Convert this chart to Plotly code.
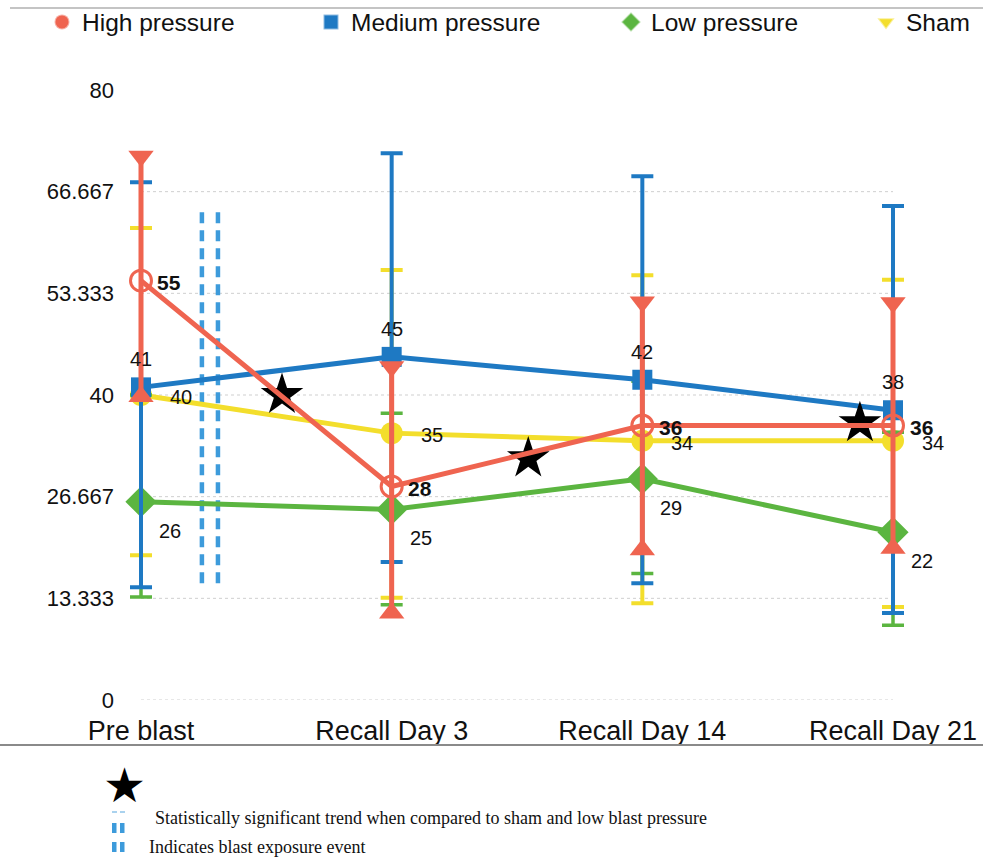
import plotly.graph_objects as go

# ---- data -------------------------------------------------------------
categories = ["Pre blast", "Recall Day 3", "Recall Day 14", "Recall Day 21"]

high_mean = [55, 28, 36, 36]
high_upper = [71.3, 43.7, 52.2, 52.1]
high_lower = [39.8, 11.4, 19.7, 19.9]

medium_mean = [41, 45, 42, 38]
medium_upper = [67.9, 71.7, 68.7, 64.8]
medium_lower = [14.8, 18.1, 15.3, 11.4]

low_mean = [26, 25, 29, 22]
low_upper = [40.0, 37.6, 41.8, 35.1]
low_lower = [13.5, 12.5, 16.6, 9.8]

sham_mean = [40, 35, 34, 34]
sham_upper = [61.9, 56.4, 55.7, 55.1]
sham_lower = [19.0, 13.4, 12.7, 12.2]

# significance stars placed between time points (x in category units)
star_x = [0.5625, 1.545, 2.868]
star_y = [40.0, 31.7, 36.3]

# blast exposure event (double dashed marker)
blast_x = [0.243, 0.307]
blast_span = [15.3, 64.7]

y_ticks = [0, 13.333, 26.667, 40, 53.333, 66.667, 80]
y_tick_text = ["0", "13.333", "26.667", "40", "53.333", "66.667", "80"]

# ---- styling ----------------------------------------------------------
RED = "#EF6450"
BLUE = "#1E79C3"
GREEN = "#5BB540"
YELLOW = "#F3DE2C"
BLAST = "#3D9BDB"
SANS = "Liberation Sans, Arial, Helvetica, sans-serif"
SERIF = "Liberation Serif, Times New Roman, serif"

W, H = 983, 857
ML, MR, MT, MB = 125, 23, 90, 157
PW, PH = W - ML - MR, H - MT - MB


def px(x):
    return (x - ML) / PW


def py(y):
    return (H - MB - y) / PH


xs = list(range(len(categories)))


def err(mean, upper, lower):
    return dict(
        type="data",
        symmetric=False,
        array=[u - m for u, m in zip(upper, mean)],
        arrayminus=[m - l for m, l in zip(mean, lower)],
    )


fig = go.Figure()

# blast exposure double dashed lines
for bx in blast_x:
    fig.add_trace(go.Scatter(
        x=[bx, bx], y=blast_span, mode="lines",
        line=dict(color=BLAST, width=4.5, dash="11px,7px"),
        showlegend=False, hoverinfo="skip",
    ))

# Sham
e = err(sham_mean, sham_upper, sham_lower)
e.update(color=YELLOW, thickness=4, width=11)
fig.add_trace(go.Scatter(
    x=xs, y=sham_mean, mode="lines+markers", name="Sham",
    line=dict(color=YELLOW, width=5),
    marker=dict(symbol="circle", size=22, color=YELLOW),
    error_y=e, showlegend=False, cliponaxis=False,
))

# Low pressure
e = err(low_mean, low_upper, low_lower)
e.update(color=GREEN, thickness=3.5, width=11)
fig.add_trace(go.Scatter(
    x=xs, y=low_mean, mode="lines+markers", name="Low pressure",
    line=dict(color=GREEN, width=5),
    marker=dict(symbol="diamond", size=24, color=GREEN),
    error_y=e, showlegend=False, cliponaxis=False,
))

# Medium pressure
e = err(medium_mean, medium_upper, medium_lower)
e.update(color=BLUE, thickness=4, width=11)
fig.add_trace(go.Scatter(
    x=xs, y=medium_mean, mode="lines+markers", name="Medium pressure",
    line=dict(color=BLUE, width=5),
    marker=dict(symbol="square", size=20, color=BLUE),
    error_y=e, showlegend=False, cliponaxis=False,
))

# significance stars
fig.add_trace(go.Scatter(
    x=star_x, y=star_y, mode="markers",
    marker=dict(symbol="star", size=32, color="black"),
    showlegend=False, hoverinfo="skip", cliponaxis=False,
))

# High pressure
e = err(high_mean, high_upper, high_lower)
e.update(color=RED, thickness=5, width=0)
fig.add_trace(go.Scatter(
    x=xs, y=high_mean, mode="lines+markers", name="High pressure",
    line=dict(color=RED, width=5),
    marker=dict(symbol="circle-open", size=21, color=RED, line=dict(width=3, color=RED)),
    error_y=e, showlegend=False, cliponaxis=False,
))
# arrow-head caps on the high pressure error bars
fig.add_trace(go.Scatter(
    x=xs + xs, y=high_upper + high_lower, mode="markers",
    marker=dict(symbol=["triangle-down"] * len(xs) + ["triangle-up"] * len(xs),
                size=22, color=RED),
    showlegend=False, hoverinfo="skip", cliponaxis=False,
))

# value labels
label_specs = [
    (sham_mean, 40, -2, False),
    (low_mean, 29, -29, False),
    (medium_mean, 0, 28, False),
    (high_mean, 28, -2, True),
]
for vals, dx, dy, bold in label_specs:
    for xi, v in zip(xs, vals):
        fig.add_annotation(
            x=xi, y=v, xref="x", yref="y", showarrow=False,
            text=f"<b>{v}</b>" if bold else str(v),
            xshift=dx, yshift=dy,
            font=dict(family=SANS, size=21 if bold else 20, color="#111"),
        )

# top legend: one legend box per series
legend_items = [
    ("High pressure", "circle", RED, 62, "legend"),
    ("Medium pressure", "square", BLUE, 331, "legend2"),
    ("Low pressure", "diamond", GREEN, 631, "legend3"),
    ("Sham", "triangle-down", YELLOW, 886, "legend4"),
]
legend_layout = {}
for name, sym, col, cx, lg in legend_items:
    fig.add_trace(go.Scatter(
        x=[None], y=[None], mode="markers", name=name,
        marker=dict(symbol=sym, size=15, color=col,
                    line=dict(width=2, color="rgba(255,255,255,0.5)")),
        legend=lg, showlegend=True,
    ))
    legend_layout[lg] = dict(
        x=px(cx - 20), y=py(22), xanchor="left", yanchor="middle",
        orientation="h", bgcolor="rgba(0,0,0,0)",
        font=dict(family=SANS, size=24.5, color="#111"),
    )

# gridlines between first and last time point
shapes = []
for t in y_ticks[:-1]:
    shapes.append(dict(type="line", xref="x", yref="y", x0=0, x1=3, y0=t, y1=t,
                       line=dict(color="#cfcfcf", width=1, dash="dot"), layer="below"))

# frame lines
shapes.append(dict(type="line", xref="paper", yref="paper",
                   x0=px(10), x1=px(983), y0=py(8), y1=py(8),
                   line=dict(color="#c4c4c4", width=2)))
shapes.append(dict(type="line", xref="paper", yref="paper",
                   x0=px(0), x1=px(983), y0=py(745), y1=py(745),
                   line=dict(color="#8a8a8a", width=2)))

# key glyphs below the chart
for x0, x1 in [(112, 117), (120, 125)]:
    shapes.append(dict(type="line", xref="paper", yref="paper",
                       x0=px(x0), x1=px(x1), y0=py(812), y1=py(812),
                       line=dict(color="#8EC3E8", width=1.5)))
    for y0, y1 in [(823, 833), (842, 852)]:
        shapes.append(dict(type="rect", xref="paper", yref="paper",
                           x0=px(x0), x1=px(x1 - 0.5), y0=py(y1), y1=py(y0),
                           fillcolor=BLAST, line=dict(width=0)))

fig.add_annotation(x=px(124), y=py(785), xref="paper", yref="paper", showarrow=False,
                   text="★", font=dict(family="DejaVu Sans", size=48, color="black"),
                   xanchor="center", yanchor="middle")
fig.add_annotation(x=px(153), y=py(818), xref="paper", yref="paper", showarrow=False,
                   text="Statistically significant trend when compared to sham and low blast pressure",
                   font=dict(family=SERIF, size=18, color="#111"),
                   xanchor="left", yanchor="middle")
fig.add_annotation(x=px(147), y=py(847), xref="paper", yref="paper", showarrow=False,
                   text="Indicates blast exposure event",
                   font=dict(family=SERIF, size=18, color="#111"),
                   xanchor="left", yanchor="middle")

scale = 752 / 3
fig.update_layout(
    width=W, height=H,
    margin=dict(l=ML, r=MR, t=MT, b=MB, autoexpand=False),
    paper_bgcolor="white", plot_bgcolor="white",
    shapes=shapes,
    **legend_layout,
    xaxis=dict(
        range=[-(141 - ML) / scale, 3 + (ML + PW - 893) / scale],
        tickvals=xs, ticktext=categories, showgrid=False, zeroline=False,
        showline=False, ticks="", ticklabelstandoff=12,
        tickfont=dict(family=SANS, size=27, color="#111"),
    ),
    yaxis=dict(
        range=[0, 80], tickvals=y_ticks, ticktext=y_tick_text,
        showgrid=False, zeroline=False, showline=False, ticks="",
        ticklabelstandoff=10,
        tickfont=dict(family=SANS, size=22, color="#111"),
    ),
)

fig.write_html("out.html")
